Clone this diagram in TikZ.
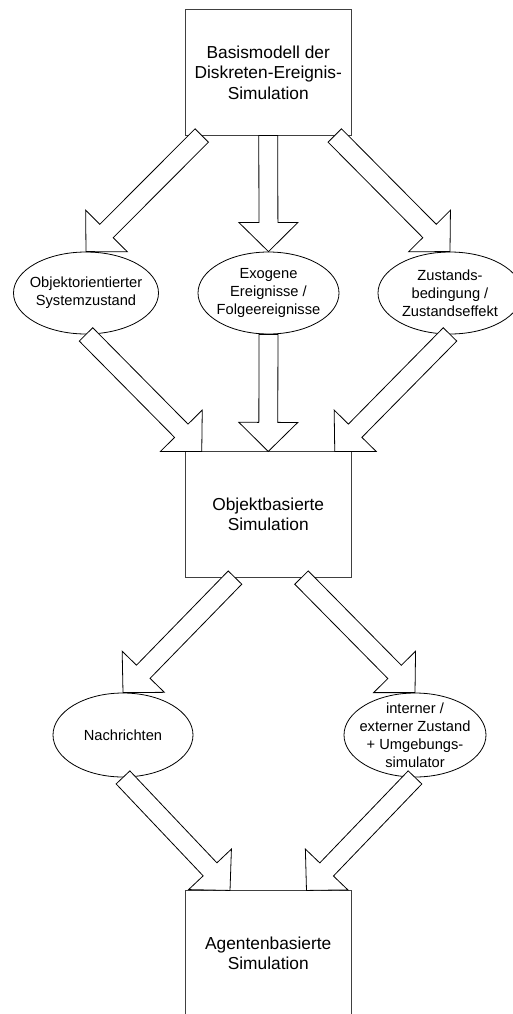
\documentclass[tikz,border=0pt]{standalone}
\usepackage{fontspec}
\setmainfont{Liberation Sans}
\usetikzlibrary{calc,shapes.geometric}
\definecolor{boxgray}{RGB}{64,64,64}
\tikzset{
  sim box/.style={
    rectangle, draw=boxgray, line width=0.6pt, fill=white,
    minimum width=124.1pt, minimum height=94pt, align=center,
    font=\fontsize{13}{15.4}\selectfont
  },
  topic ellipse/.style={
    ellipse, draw=black, line width=0.6pt, fill=white, align=center,
    inner xsep=-8pt, inner ysep=-4pt, minimum height=61.5pt,
    font=\fontsize{11}{13.5}\selectfont
  },
  block arrow/.style={draw=black, fill=white, line width=0.6pt, line join=miter}
}
% fat arrow from #1 (tail centre) to #2 (tip)
\newcommand{\blockarrow}[2]{%
  \coordinate (ba-s) at (#1);
  \coordinate (ba-e) at (#2);
  \coordinate (ba-c) at ($(ba-e)!21.8pt!(ba-s)$);
  \draw[block arrow] ($(ba-s)!7.1pt!90:(ba-e)$)
    -- ($(ba-c)!7.1pt!90:(ba-e)$) -- ($(ba-c)!22.1pt!90:(ba-e)$)
    -- (ba-e)
    -- ($(ba-c)!22.1pt!-90:(ba-e)$) -- ($(ba-c)!7.1pt!-90:(ba-e)$)
    -- ($(ba-s)!7.1pt!-90:(ba-e)$) -- cycle;
}

\begin{document}
\begin{tikzpicture}[x=0.75pt, y=-0.75pt]
  \useasboundingbox (0,0) rectangle (513,1014);

  % simulation levels
  \node[sim box] (basis) at (268.25,72.4) {Basismodell der\\Diskreten-Ereignis-\\Simulation};
  \node[sim box] (objsim) at (268.25,514.5) {Objektbasierte\\Simulation};
  \node[sim box] (agentsim) at (268.25,953.5) {Agentenbasierte\\Simulation};

  % concepts
  \node[topic ellipse, minimum width=108.75pt] (sysstate) at (86,293) {Objektorientierter\\Systemzustand};
  \node[topic ellipse, minimum width=105.75pt] (exogen) at (268.5,293) {Exogene\\Ereignisse /\\Folgeereignisse};
  \node[topic ellipse, minimum width=108pt] (condition) at (450,293) {Zustands-\\bedingung /\\Zustandseffekt};
  \node[topic ellipse, minimum width=105pt, minimum height=63pt] (messages) at (123,735) {Nachrichten};
  \node[topic ellipse, minimum width=106.5pt, minimum height=63pt] (envsim) at (415,735) {interner /\\externer Zustand\\+ Umgebungs-\\simulator};

  % arrows
  \blockarrow{$(basis.south west)!0.1!(basis.south east)$}{sysstate.north}
  \blockarrow{basis.south}{exogen.north}
  \blockarrow{$(basis.south west)!0.9!(basis.south east)$}{condition.north}
  \blockarrow{sysstate.south}{$(objsim.north west)!0.1!(objsim.north east)$}
  \blockarrow{exogen.south}{objsim.north}
  \blockarrow{condition.south}{$(objsim.north west)!0.9!(objsim.north east)$}
  \blockarrow{$(objsim.south west)!0.3!(objsim.south east)$}{messages.north}
  \blockarrow{$(objsim.south west)!0.7!(objsim.south east)$}{envsim.north}
  \blockarrow{messages.south}{$(agentsim.north west)!0.27!(agentsim.north east)$}
  \blockarrow{envsim.south}{$(agentsim.north west)!0.73!(agentsim.north east)$}
\end{tikzpicture}
\end{document}
